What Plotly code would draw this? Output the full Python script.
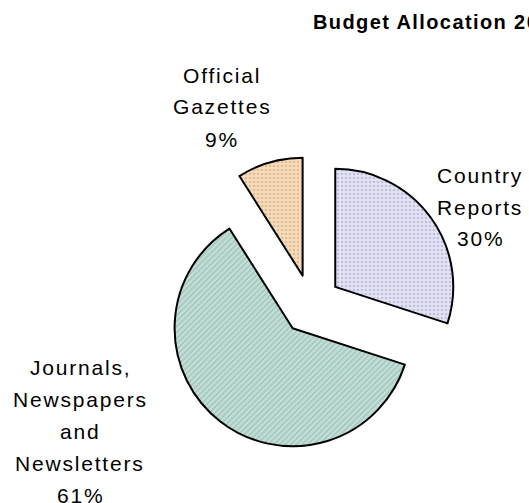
import plotly.graph_objects as go

# Budget allocation shares (percent)
categories = ["Country\nReports", "Journals,\nNewspapers\nand\nNewsletters", "Official\nGazettes"]
values = [30, 61, 9]
title_text = "Budget Allocation 2006"

W, H = 529, 503

# slice styling
fill_bg = ["#e4e4f4", "#c2ded6", "#f6dcbc"]
fill_fg = ["#9a9ac8", "#7eaa9e", "#c8a070"]
shapes = [".", "/", "."]
pulls = [0.254, 0.254, 0.254]

# pie box (pixels): centre and half-size
cx, cy, half = 311, 304.5, 148

fig = go.Figure(
    go.Pie(
        labels=[c.replace("\n", " ") for c in categories],
        values=values,
        sort=False,
        direction="clockwise",
        rotation=0,
        pull=pulls,
        textinfo="none",
        hoverinfo="skip",
        showlegend=False,
        marker=dict(
            colors=fill_bg,
            line=dict(color="#000000", width=2),
            pattern=dict(
                shape=shapes,
                fgcolor=fill_fg,
                bgcolor=fill_bg,
                size=4,
                solidity=0.35,
                fillmode="overlay",
            ),
        ),
        domain=dict(
            x=[(cx - half) / W, (cx + half) / W],
            y=[1 - (cy + half) / H, 1 - (cy - half) / H],
        ),
    )
)

# outside labels, one annotation per text line
label_pos = [(480, 175), (80, 367), (222, 75)]  # centre x, first-line y
line_gap = 32
total = sum(values)
annotations = []
for cat, val, (lx, ly) in zip(categories, values, label_pos):
    lines = cat.split("\n") + [f"{round(100 * val / total)}%"]
    for i, line in enumerate(lines):
        annotations.append(
            dict(
                text=f'<span style="letter-spacing:1.8px">{line}</span>',
                x=lx / W,
                y=1 - (ly + i * line_gap) / H,
                xref="paper",
                yref="paper",
                xanchor="center",
                yanchor="middle",
                showarrow=False,
                font=dict(family="Liberation Sans, Arial, sans-serif", size=21, color="#000000"),
            )
        )

fig.update_layout(
    width=W,
    height=H,
    margin=dict(l=0, r=0, t=0, b=0),
    paper_bgcolor="#ffffff",
    plot_bgcolor="#ffffff",
    title=dict(
        text=f'<b><span style="letter-spacing:1.4px">{title_text}</span></b>',
        x=313 / W,
        xanchor="left",
        y=1 - 22 / H,
        yanchor="middle",
        font=dict(family="Liberation Sans, Arial, sans-serif", size=20, color="#000000"),
    ),
    annotations=annotations,
    hovermode=False,
)

fig.write_html("out.html")
